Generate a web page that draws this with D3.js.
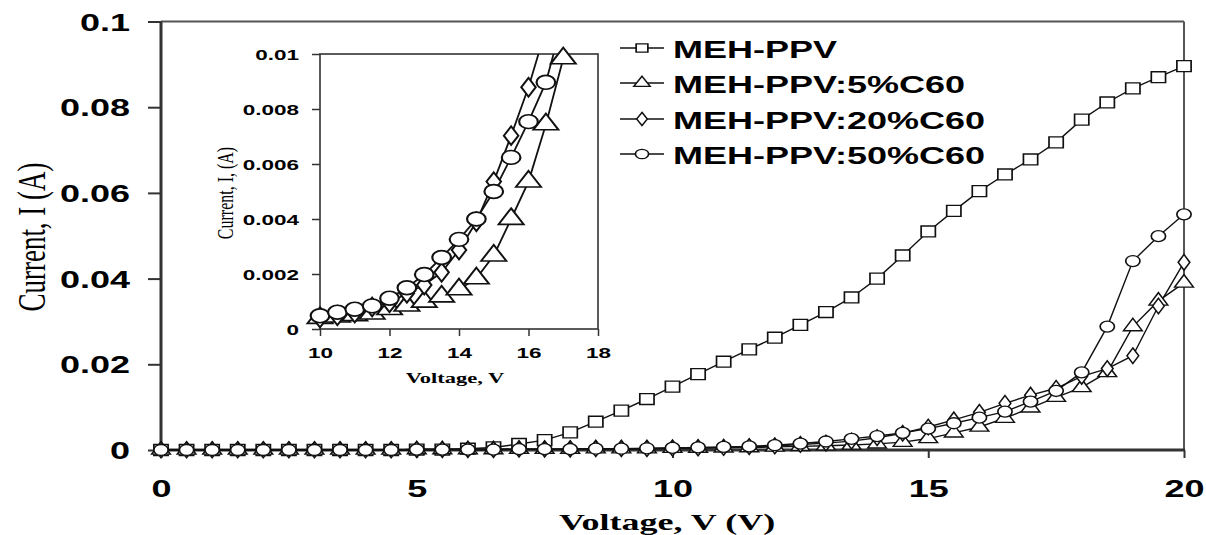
<!DOCTYPE html>
<html>
<head>
<meta charset="utf-8">
<script src="https://cdn.jsdelivr.net/npm/d3@7"></script>
<style>
  body { margin: 0; background: #fff; }
  text { fill: #000; }
</style>
</head>
<body>
<script>
// voltage steps (V)
const voltage = [0,0.5,1,1.5,2,2.5,3,3.5,4,4.5,5,5.5,6,6.5,7,7.5,8,8.5,9,9.5,10,
                 10.5,11,11.5,12,12.5,13,13.5,14,14.5,15,15.5,16,16.5,17,17.5,18,18.5,19,19.5,20]

// current (A)
const mehPpv = [0,0,0,0,0,0,0,0,0,0,0.0001,0.0001,0.0003,0.0006,0.0014,0.0023,0.0041,0.0066,0.0092,0.0119,0.0148,
                0.0177,0.0206,0.0235,0.0262,0.0292,0.0322,0.0356,0.040,0.0454,0.051,0.0558,0.0604,0.0643,0.0678,0.0718,0.0771,0.0811,0.0844,0.087,0.0896]
const c60_5 = [0,0,0,0,0,0,0,0,0,0,0.0001,0.0001,0.0001,0.0001,0.0002,0.0002,0.0002,0.0003,0.0003,0.0003,0.0004,
               0.00045,0.0005,0.00056,0.00072,0.00085,0.00099,0.00118,0.00144,0.00184,0.00267,0.0040,0.00536,0.00744,0.00984,0.0123,0.0146,0.0181,0.0288,0.0348,0.039]
const c60_20 = [0,0,0,0,0,0,0,0,0,0,0.0001,0.0001,0.0001,0.0001,0.0002,0.0002,0.0002,0.0003,0.0003,0.0003,0.0004,
                0.00048,0.00058,0.0008,0.00095,0.0013,0.0016,0.00206,0.00287,0.0039,0.00536,0.00703,0.00879,0.0109,0.0128,0.0144,0.0172,0.019,0.022,0.0336,0.0438]
const c60_50 = [0,0,0,0,0,0,0,0,0,0,0.0001,0.0001,0.0001,0.0001,0.0002,0.0002,0.0002,0.0003,0.0003,0.0004,0.00048,
                0.00061,0.00072,0.00084,0.00112,0.0015,0.00198,0.0026,0.00326,0.0040,0.0050,0.00624,0.00754,0.00897,0.0113,0.0138,0.0181,0.0288,0.0441,0.0499,0.055]

const seriesNames = ["MEH-PPV","MEH-PPV:5%C60","MEH-PPV:20%C60","MEH-PPV:50%C60"]

const xTicks = [0,5,10,15,20]
const yTicks = [0,0.02,0.04,0.06,0.08,0.1]
const yTickLabels = ["0","0.02","0.04","0.06","0.08","0.1"]
const insetXTicks = [10,12,14,16,18]
const insetYTicks = [0,0.002,0.004,0.006,0.008,0.01]
const insetYTickLabels = ["0","0.002","0.004","0.006","0.008","0.01"]

const width = 1206, height = 535
const SX = 1.5 // the figure is stretched sideways

const svg = d3.select("body").append("svg")
  .attr("width", width).attr("height", height)

const series = [
  {name: seriesNames[0], vals: mehPpv, sym: d3.symbolSquare, size: 120, isize: 0, lsize: 70},
  {name: seriesNames[1], vals: c60_5, sym: d3.symbolTriangle, size: 90, isize: 150, lsize: 60},
  {name: seriesNames[2], vals: c60_20, sym: d3.symbolDiamond, size: 70, isize: 100, lsize: 50},
  {name: seriesNames[3], vals: c60_50, sym: d3.symbolCircle, size: 95, isize: 150, lsize: 70}
]

// ---------- main plot
const x = d3.scaleLinear().domain([0,20]).range([161,1184])
const y = d3.scaleLinear().domain([0,0.1]).range([450,21.5])

const xAxis = svg.append("g").attr("transform","translate(0,450)")
  .call(d3.axisBottom(x).tickValues(xTicks).tickSize(8).tickSizeOuter(0))
xAxis.select(".domain").remove()
xAxis.selectAll("line").attr("stroke","#333").attr("stroke-width",2)
xAxis.selectAll("text").attr("y",47).attr("dy",0)
  .attr("transform","scale(1.5,1)")
  .style("font","bold 24px 'Liberation Sans', Arial, sans-serif")

const yAxis = svg.append("g").attr("transform","translate(161,0)")
  .call(d3.axisLeft(y).tickValues(yTicks).tickFormat((d,i)=>yTickLabels[i]).tickSize(13).tickSizeOuter(0))
yAxis.select(".domain").remove()
yAxis.selectAll("line").attr("stroke","#333").attr("stroke-width",2)
yAxis.selectAll("text").attr("x",-31/SX).attr("dy","0.36em")
  .attr("transform","scale(1.5,1)")
  .style("font","bold 24px 'Liberation Sans', Arial, sans-serif")

// frame
svg.append("line").attr("x1",161).attr("x2",1184).attr("y1",21.5).attr("y2",21.5).attr("stroke","#555").attr("stroke-width",2)
svg.append("line").attr("x1",1184).attr("x2",1184).attr("y1",21.5).attr("y2",450).attr("stroke","#555").attr("stroke-width",2)
svg.append("line").attr("x1",161).attr("x2",161).attr("y1",21.5).attr("y2",451).attr("stroke","#333").attr("stroke-width",3)
svg.append("line").attr("x1",160).attr("x2",1185).attr("y1",450).attr("y2",450).attr("stroke","#333").attr("stroke-width",3)

const line = d3.line().x((d,i)=>x(voltage[i])).y(d=>y(d))
series.forEach(s=>{
  svg.append("path").datum(s.vals).attr("d",line)
    .attr("fill","none").attr("stroke","#111").attr("stroke-width",1.4)
})
series.forEach(s=>{
  svg.append("g").selectAll("path").data(s.vals).join("path")
    .attr("transform",(d,i)=>`translate(${x(voltage[i])},${y(d)}) scale(1.3,1)`)
    .attr("d",d3.symbol(s.sym,s.size)())
    .attr("fill","#fff").attr("stroke","#111").attr("stroke-width",1.3)
})

// axis titles
svg.append("g").attr("transform","translate(31,237) scale(1.5,1) rotate(-90)")
  .append("text").attr("text-anchor","middle").attr("dy","0.35em")
  .style("font","27px 'Liberation Serif', 'Times New Roman', serif")
  .text("Current, I (A)")
svg.append("g").attr("transform","translate(667,530) scale(1.5,1)")
  .append("text").attr("text-anchor","middle")
  .style("font","bold 24px 'Liberation Serif', 'Times New Roman', serif")
  .text("Voltage, V (V)")

// ---------- legend
const legendRows = [49,84,120,155]
series.forEach((s,i)=>{
  const g = svg.append("g").attr("transform",`translate(0,${legendRows[i]})`)
  g.append("line").attr("x1",620).attr("x2",664).attr("y1",-1).attr("y2",-1)
    .attr("stroke","#111").attr("stroke-width",1.3)
  g.append("path").attr("transform","translate(642,-1) scale(1.4,1)")
    .attr("d",d3.symbol(s.sym,s.lsize)())
    .attr("fill","#fff").attr("stroke","#111").attr("stroke-width",1.2)
  g.append("g").attr("transform","translate(673,0) scale(1.5,1)")
    .append("text").attr("dy","0.36em")
    .style("font","bold 24px 'Liberation Sans', Arial, sans-serif")
    .text(s.name)
})

// ---------- inset
const ix = d3.scaleLinear().domain([10,18]).range([320,598])
const iy = d3.scaleLinear().domain([0,0.01]).range([329,54])

svg.append("rect").attr("x",320).attr("y",54).attr("width",278).attr("height",275).attr("fill","#fff")

svg.append("clipPath").attr("id","insetClip").append("rect")
  .attr("x",320).attr("y",54).attr("width",278).attr("height",275)

const ixAxis = svg.append("g").attr("transform","translate(0,329)")
  .call(d3.axisBottom(ix).tickValues(insetXTicks).tickSize(7).tickSizeOuter(0))
ixAxis.select(".domain").remove()
ixAxis.selectAll("line").attr("stroke","#333").attr("stroke-width",1.5)
ixAxis.selectAll("text").attr("y",29).attr("dy",0)
  .attr("transform","scale(1.5,1)")
  .style("font","bold 15px 'Liberation Sans', Arial, sans-serif")

const iyAxis = svg.append("g").attr("transform","translate(320,0)")
  .call(d3.axisLeft(iy).tickValues(insetYTicks).tickFormat((d,i)=>insetYTickLabels[i]).tickSize(8).tickSizeOuter(0))
iyAxis.select(".domain").remove()
iyAxis.selectAll("line").attr("stroke","#333").attr("stroke-width",1.5)
iyAxis.selectAll("text").attr("x",-21/SX).attr("dy","0.36em")
  .attr("transform","scale(1.5,1)")
  .style("font","bold 15px 'Liberation Sans', Arial, sans-serif")

svg.append("rect").attr("x",320).attr("y",54).attr("width",278).attr("height",275)
  .attr("fill","none").attr("stroke","#333").attr("stroke-width",1.6)

const iline = d3.line().x(d=>ix(d[0])).y(d=>iy(d[1]))
const inset = svg.append("g")
series.slice(1).forEach(s=>{
  const pts = voltage.map((v,i)=>[v,s.vals[i]]).filter(p=>p[0]>=9.5 && p[0]<=18.5)
  inset.append("path").datum(pts).attr("d",iline).attr("clip-path","url(#insetClip)")
    .attr("fill","none").attr("stroke","#111").attr("stroke-width",1.8)
})
series.slice(1).forEach(s=>{
  const pts = voltage.map((v,i)=>[v,s.vals[i]]).filter(p=>p[0]>=10 && p[0]<=18 && p[1]<=0.0101)
  inset.append("g").selectAll("path").data(pts).join("path")
    .attr("transform",d=>`translate(${ix(d[0])},${iy(d[1])}) scale(1.35,1)`)
    .attr("d",d3.symbol(s.sym,s.isize)())
    .attr("fill","#fff").attr("stroke","#111").attr("stroke-width",1.6)
})

svg.append("g").attr("transform","translate(225,193) scale(1.5,1) rotate(-90)")
  .append("text").attr("text-anchor","middle").attr("dy","0.35em")
  .style("font","16px 'Liberation Serif', 'Times New Roman', serif")
  .text("Current, I, (A)")
svg.append("g").attr("transform","translate(455,383) scale(1.5,1)")
  .append("text").attr("text-anchor","middle")
  .style("font","bold 15px 'Liberation Serif', 'Times New Roman', serif")
  .text("Voltage, V")
</script>
</body>
</html>
